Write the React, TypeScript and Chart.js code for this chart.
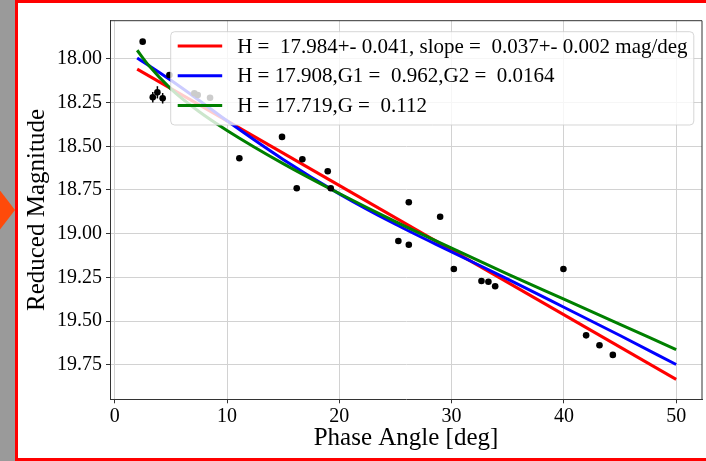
import { useEffect, useRef } from "react";
import { Chart, registerables } from "chart.js";

Chart.register(...registerables);

// Observed reduced magnitudes versus phase angle
const phaseAngle = [2.49, 3.39, 3.8, 4.27, 4.87, 7.09, 7.39, 8.49, 11.1, 14.9, 16.21, 16.71, 18.97, 19.24, 25.26, 26.19, 26.19, 28.98, 30.2, 32.66, 33.28, 33.88, 39.96, 41.98, 43.17, 44.36];
const reducedMag = [17.901, 18.219, 18.191, 18.225, 18.092, 18.196, 18.206, 18.222, 18.568, 18.446, 18.74, 18.574, 18.643, 18.74, 19.042, 18.82, 19.063, 18.903, 19.202, 19.271, 19.275, 19.301, 19.202, 19.582, 19.639, 19.694];
const magError = [0.01, 0.03, 0.035, 0.03, 0.012, 0.01, 0.01, 0.01, 0.01, 0.01, 0.01, 0.01, 0.01, 0.01, 0.01, 0.01, 0.01, 0.01, 0.01, 0.01, 0.01, 0.01, 0.01, 0.01, 0.01, 0.01];

// Fitted phase curves
const linearAngle = [2, 50];
const linearMag = [18.058, 19.834];
const fitAngle = [2, 3, 5, 7.5, 10, 15, 20, 25, 30, 35, 40, 45, 50];
const hg1g2Mag = [17.995, 18.036, 18.122, 18.236, 18.354, 18.575, 18.772, 18.946, 19.104, 19.26, 19.421, 19.583, 19.749];
const hgMag = [17.95, 18.035, 18.171, 18.301, 18.409, 18.599, 18.77, 18.931, 19.083, 19.231, 19.375, 19.519, 19.663];

const legendLabels = [
  "H =  17.984+- 0.041, slope =  0.037+- 0.002 mag/deg",
  "H = 17.908,G1 =  0.962,G2 =  0.0164",
  "H = 17.719,G =  0.112",
];
const fitColors = ["#ff0000", "#0000ff", "#008000"];

const xTicks = [0, 10, 20, 30, 40, 50];
const yTicks = [18.0, 18.25, 18.5, 18.75, 19.0, 19.25, 19.5, 19.75];

const xTitle = "Phase Angle [deg]";
const yTitle = "Reduced Magnitude";

const SERIF = "'Liberation Serif', 'Times New Roman', serif";
const SPINE = "#333333";
const GRID = "#d2d2d2";

const decorations = {
  id: "decorations",
  afterDatasetsDraw(chart: any) {
    const { ctx, chartArea, scales } = chart;
    const xs = scales.x;
    const ys = scales.y;

    // error bars
    ctx.save();
    ctx.strokeStyle = "#000";
    ctx.lineWidth = 1.5;
    phaseAngle.forEach((a, i) => {
      const px = xs.getPixelForValue(a);
      const y1 = ys.getPixelForValue(reducedMag[i] - magError[i]);
      const y2 = ys.getPixelForValue(reducedMag[i] + magError[i]);
      ctx.beginPath();
      ctx.moveTo(px, y1);
      ctx.lineTo(px, y2);
      ctx.stroke();
    });
    ctx.restore();

    // top and right spines
    ctx.save();
    ctx.strokeStyle = SPINE;
    ctx.lineWidth = 1;
    ctx.beginPath();
    ctx.moveTo(chartArea.left, chartArea.top);
    ctx.lineTo(chartArea.right, chartArea.top);
    ctx.lineTo(chartArea.right, chartArea.bottom);
    ctx.stroke();
    ctx.restore();

    // legend box
    const bx = chartArea.left + 60.7;
    const by = chartArea.top + 11;
    const bw = chartArea.right - 8.2 - bx;
    const bh = 93.3;
    ctx.save();
    ctx.beginPath();
    ctx.roundRect(bx, by, bw, bh, 4);
    ctx.fillStyle = "rgba(255,255,255,0.8)";
    ctx.fill();
    ctx.strokeStyle = "rgba(204,204,204,0.8)";
    ctx.lineWidth = 1;
    ctx.stroke();
    ctx.font = `21px ${SERIF}`;
    ctx.textBaseline = "middle";
    ctx.textAlign = "left";
    legendLabels.forEach((label, i) => {
      const ly = by + 14.3 + i * 29.8;
      ctx.strokeStyle = fitColors[i];
      ctx.lineWidth = 3;
      ctx.beginPath();
      ctx.moveTo(bx + 7, ly);
      ctx.lineTo(bx + 51.5, ly);
      ctx.stroke();
      ctx.fillStyle = "#000";
      ctx.fillText(label, bx + 66.5, ly + 1);
    });
    ctx.restore();

    // axis titles
    ctx.save();
    ctx.fillStyle = "#000";
    ctx.font = `25px ${SERIF}`;
    ctx.textAlign = "center";
    ctx.textBaseline = "middle";
    ctx.fillText(xTitle, (chartArea.left + chartArea.right) / 2, 438);
    ctx.translate(37.5, (chartArea.top + chartArea.bottom) / 2);
    ctx.rotate(-Math.PI / 2);
    ctx.fillText(yTitle, 0, 0);
    ctx.restore();
  },
};

export default function App() {
  const canvasRef = useRef<HTMLCanvasElement | null>(null);

  useEffect(() => {
    const canvas = canvasRef.current;
    if (!canvas) return;
    const fitLine = (xsArr: number[], ysArr: number[], color: string, order: number) => ({
      type: "scatter" as const,
      data: xsArr.map((x, i) => ({ x, y: ysArr[i] })),
      showLine: true,
      borderColor: color,
      backgroundColor: color,
      borderWidth: 3,
      pointRadius: 0,
      cubicInterpolationMode: "monotone" as const,
      order,
    });
    const chart = new Chart(canvas, {
      type: "scatter",
      data: {
        datasets: [
          {
            data: phaseAngle.map((x, i) => ({ x, y: reducedMag[i] })),
            pointRadius: 3.3,
            pointBackgroundColor: "#000",
            pointBorderWidth: 0,
            order: 0,
          } as any,
          fitLine(fitAngle, hgMag, fitColors[2], 1),
          fitLine(fitAngle, hg1g2Mag, fitColors[1], 2),
          fitLine(linearAngle, linearMag, fitColors[0], 3),
        ],
      },
      options: {
        animation: false,
        responsive: false,
        devicePixelRatio: 1,
        events: [],
        layout: { padding: { top: 20.7, right: 3.3, left: 0, bottom: 0 } },
        plugins: { legend: { display: false }, tooltip: { enabled: false } },
        scales: {
          x: {
            type: "linear",
            min: -0.42,
            max: 52.3,
            afterBuildTicks: (s: any) => {
              s.ticks = xTicks.map((v) => ({ value: v }));
            },
            afterFit: (s: any) => {
              s.height = 61.7;
            },
            ticks: {
              font: { family: SERIF, size: 20 },
              color: "#000",
              padding: 1,
              maxRotation: 0,
              callback: (v: any) => String(v),
            },
            grid: { color: GRID, lineWidth: 1, tickLength: 4, tickColor: SPINE },
            border: { color: SPINE, width: 1 },
          },
          y: {
            type: "linear",
            reverse: true,
            min: 17.781,
            max: 19.948,
            afterBuildTicks: (s: any) => {
              s.ticks = yTicks.map((v) => ({ value: v }));
            },
            afterFit: (s: any) => {
              s.width = 110;
            },
            ticks: {
              font: { family: SERIF, size: 20 },
              color: "#000",
              padding: 4,
              callback: (v: any) => Number(v).toFixed(2),
            },
            grid: { color: GRID, lineWidth: 1, tickLength: 4, tickColor: SPINE },
            border: { color: SPINE, width: 1 },
          },
        },
      },
      plugins: [decorations],
    });
    return () => chart.destroy();
  }, []);

  return (
    <div
      style={{
        position: "fixed",
        left: 0,
        top: 0,
        width: 706,
        height: 461,
        background: "#fff",
        overflow: "hidden",
      }}
    >
      <div style={{ position: "absolute", left: 0, top: 0, width: 15, height: 461, background: "#9a9a9a" }} />
      <div
        style={{
          position: "absolute",
          left: 0,
          top: 190.5,
          width: 15,
          height: 39,
          background: "#ff4a0a",
          clipPath: "polygon(0 0, 100% 50%, 0 100%)",
        }}
      />
      <div
        style={{
          position: "absolute",
          left: 15,
          top: 0,
          width: 720,
          height: 461,
          border: "3px solid #ff0000",
          boxSizing: "border-box",
        }}
      />
      <canvas
        ref={canvasRef}
        width={706}
        height={461}
        style={{ position: "absolute", left: 0, top: 0, width: 706, height: 461 }}
      />
    </div>
  );
}
